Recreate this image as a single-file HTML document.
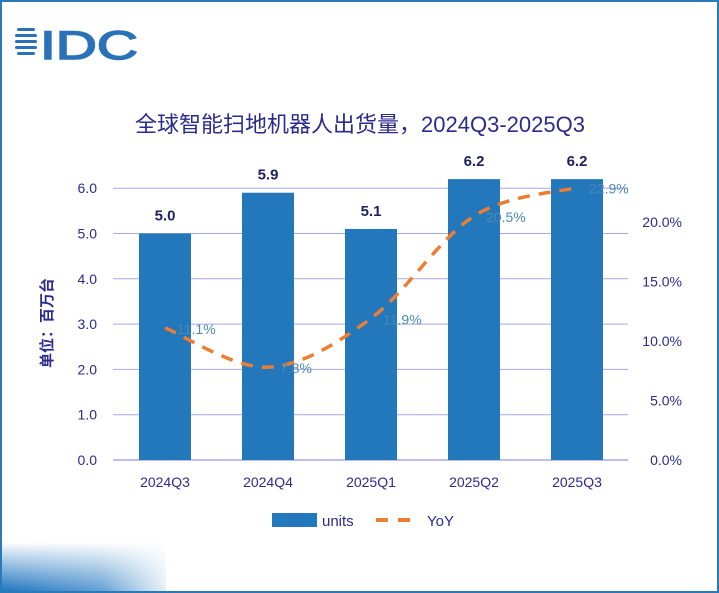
<!DOCTYPE html>
<html><head><meta charset="utf-8"><style>
body{margin:0;width:719px;height:593px;overflow:hidden;background:#fff;font-family:"Liberation Sans","Noto Sans CJK SC",sans-serif;}
#frame{position:absolute;left:0;top:0;width:715px;height:589px;border:2px solid #2a7ab8;}
</style></head><body>
<div id="frame"></div>
<svg width="719" height="593" style="position:absolute;left:0;top:0" id="chart">
<defs>
<linearGradient id="fadeV" x1="0" y1="1" x2="0" y2="0"><stop offset="0" stop-color="#1f75c0"/><stop offset="1" stop-color="#1f75c0" stop-opacity="0"/></linearGradient>
<linearGradient id="fadeH" x1="0" y1="0" x2="1" y2="0"><stop offset="0" stop-color="#fff" stop-opacity="0"/><stop offset="0.6" stop-color="#fff" stop-opacity="0.3"/><stop offset="1" stop-color="#fff" stop-opacity="0.9"/></linearGradient>
</defs>
<g>
<g fill="#2a72b8"><rect x="17" y="28" width="18" height="3" rx="1.5"/><rect x="15" y="34" width="22" height="3" rx="1.5"/><rect x="15" y="40" width="22" height="3" rx="1.5"/><rect x="15" y="46" width="22" height="3" rx="1.5"/><rect x="17" y="52" width="18" height="3" rx="1.5"/></g>
<text x="40" y="59" font-size="40" fill="#2a72b8" stroke="#2a72b8" stroke-width="1.5" font-family="Liberation Sans, sans-serif" textLength="98" lengthAdjust="spacingAndGlyphs">IDC</text>
</g>
<text x="360" y="132" text-anchor="middle" font-size="22" fill="#2b2b8f">全球智能扫地机器人出货量，2024Q3-2025Q3</text>
<text transform="translate(52,323) rotate(-90)" text-anchor="middle" font-size="15" fill="#2b2b8f" font-weight="bold">单位：百万台</text>
<g id="grid"></g><g id="bars"></g><g id="line"></g><g id="labels"></g>
<g>
<rect x="272" y="513" width="45" height="14" fill="#2377bb"/>
<text x="322" y="526" font-size="15" fill="#2b2b8f">units</text>
<line x1="376" y1="520" x2="416" y2="520" stroke="#ed7d31" stroke-width="4" stroke-dasharray="12,10"/>
<text x="427" y="526" font-size="15" fill="#2b2b8f">YoY</text>
</g>
<g>
<rect x="2" y="542" width="164" height="49" fill="url(#fadeV)"/>
<rect x="2" y="542" width="164" height="49" fill="url(#fadeH)"/>
</g>
</svg>
<script>
const categories=["2024Q3","2024Q4","2025Q1","2025Q2","2025Q3"];
const units=[5.0,5.9,5.1,6.2,6.2];
const yoy=[11.1,7.8,11.9,20.5,22.9];
const leftTicks=[0,1,2,3,4,5,6];
const rightTicks=[0,5,10,15,20];
const NS="http://www.w3.org/2000/svg";
const x0=113,x1=628,yBase=460;
const yL=v=>yBase-v*45.3;
const yR=v=>yBase-v*11.9;
const xC=i=>165+i*103;
function mk(t,a,p){const e=document.createElementNS(NS,t);for(const k in a)e.setAttribute(k,a[k]);document.getElementById(p).appendChild(e);return e;}
leftTicks.forEach(v=>{
 const l=mk('line',{x1:x0,x2:x1,y1:yL(v),y2:yL(v),stroke:'#a8a8e6','stroke-width':v===0?1.5:1},'grid');
 
 
 const t=mk('text',{x:97,y:yL(v)+5,'text-anchor':'end','font-size':14,fill:'#2b2b8f'},'grid');t.textContent=v.toFixed(1);
 
 
});
rightTicks.forEach(v=>{
 const t=mk('text',{x:682,y:yR(v)+5,'text-anchor':'end','font-size':14,fill:'#2b2b8f'},'grid');t.textContent=v.toFixed(1)+'%';
 
 
});
categories.forEach((c,i)=>{
 const b=mk('rect',{x:xC(i)-26,y:yL(units[i]),width:52,height:yBase-yL(units[i]),fill:'#2377bb'},'bars');
 
 
 const v=mk('text',{x:xC(i),y:yL(units[i])-13,'text-anchor':'middle','font-size':15,'font-weight':'bold',fill:'#1f1f5f'},'labels');v.textContent=units[i].toFixed(1);
 
 
 const t=mk('text',{x:xC(i),y:487,'text-anchor':'middle','font-size':14,fill:'#2b2b8f'},'labels');t.textContent=c;
 
 
 const y=mk('text',{x:xC(i)+12,y:yR(yoy[i])+6,'font-size':14,fill:'#4a8ab8'},'labels');y.textContent=yoy[i].toFixed(1)+'%';
 
 
});
const pts=yoy.map((v,i)=>[xC(i),yR(v)]);
let d='M'+pts[0][0]+','+pts[0][1];
for(let i=0;i<pts.length-1;i++){
 const p0=pts[i-1]||pts[i],p1=pts[i],p2=pts[i+1],p3=pts[i+2]||p2;
 d+=` C${p1[0]+(p2[0]-p0[0])/6},${p1[1]+(p2[1]-p0[1])/6} ${p2[0]-(p3[0]-p1[0])/6},${p2[1]-(p3[1]-p1[1])/6} ${p2[0]},${p2[1]}`;
}
const ln=mk('path',{d:d,fill:'none',stroke:'#ed7d31','stroke-width':3.5,'stroke-dasharray':'12,9'},'line');


</script>
</body></html>
